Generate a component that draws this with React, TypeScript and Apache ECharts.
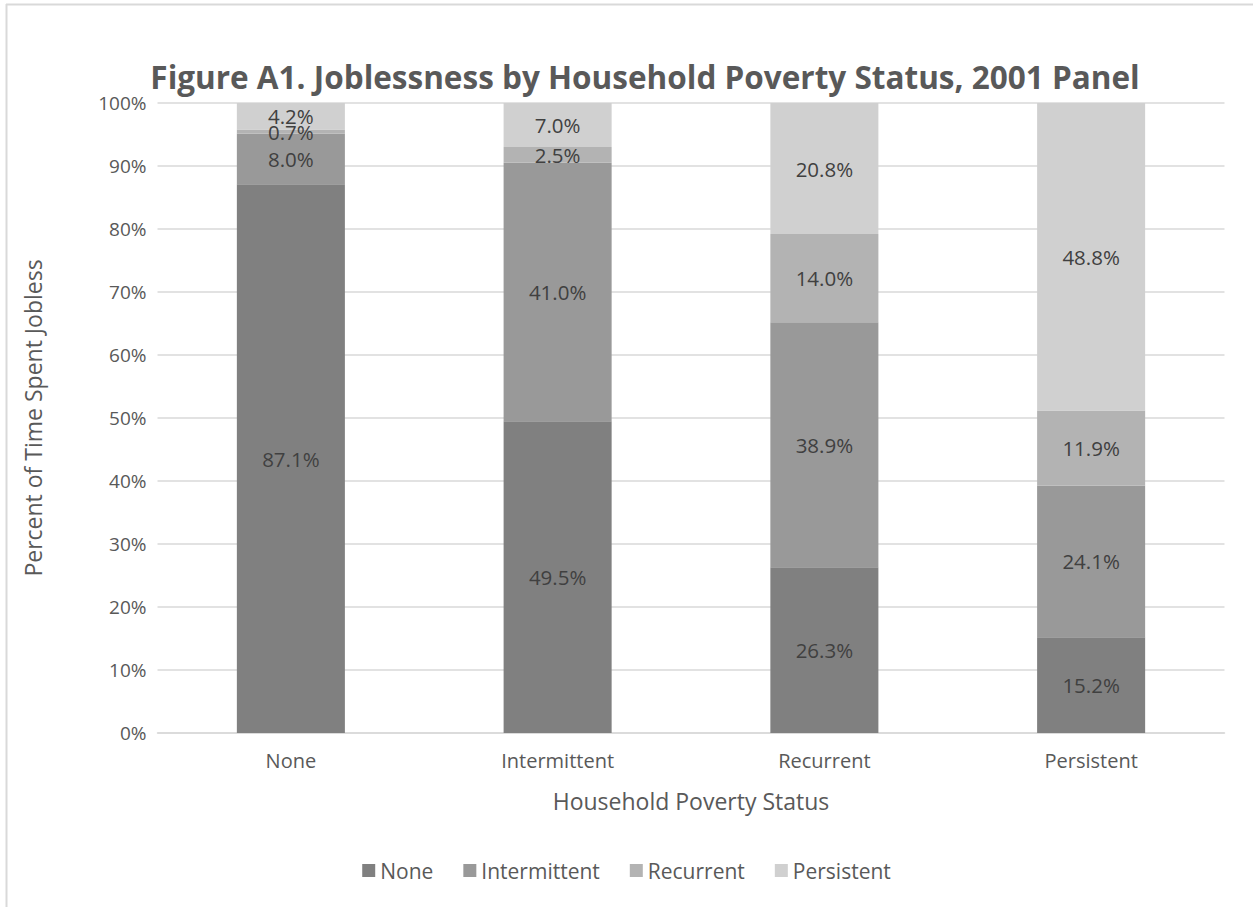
import React, { useEffect, useRef } from "react";
import * as echarts from "echarts";

const categories = ["None", "Intermittent", "Recurrent", "Persistent"];
const seriesNames = ["None", "Intermittent", "Recurrent", "Persistent"];
const noneValues = [87.1, 49.5, 26.3, 15.2];
const intermittentValues = [8.0, 41.0, 38.9, 24.1];
const recurrentValues = [0.7, 2.5, 14.0, 11.9];
const persistentValues = [4.2, 7.0, 20.8, 48.8];
const colors = ["#808080", "#999999", "#b3b3b3", "#d0d0d0"];

export default function App() {
  const ref = useRef<HTMLDivElement>(null);
  useEffect(() => {
    document.body.style.margin = "0";
    const chart = echarts.init(ref.current!, null, { renderer: "svg" });
    const font = "'Open Sans', sans-serif";
    const all = [noneValues, intermittentValues, recurrentValues, persistentValues];
    chart.setOption({
      animation: false,
      backgroundColor: "#ffffff",
      textStyle: { fontFamily: font },
      title: {
        text: "Figure A1. Joblessness by Household Poverty Status, 2001 Panel",
        left: 640,
        top: 55,
        textAlign: "center",
        textStyle: { fontFamily: font, fontSize: 31.5, fontWeight: "bold", color: "#595959" },
      },
      graphic: [
        { type: "line", shape: { x1: 6, y1: 4.5, x2: 1253, y2: 4.5 }, style: { stroke: "#d9d9d9", lineWidth: 2 } },
        { type: "line", shape: { x1: 6.5, y1: 4, x2: 6.5, y2: 907 }, style: { stroke: "#d9d9d9", lineWidth: 2 } },
      ],
      grid: { left: 157.5, right: 28.5, top: 103, bottom: 174, containLabel: false },
      legend: {
        bottom: 21,
        left: "center",
        itemWidth: 13,
        itemHeight: 13,
        itemGap: 30,
        icon: "rect",
        textStyle: { fontFamily: font, fontSize: 21, color: "#595959" },
        data: seriesNames,
      },
      xAxis: {
        type: "category",
        data: categories,
        name: "Household Poverty Status",
        nameLocation: "middle",
        nameGap: 56,
        nameTextStyle: { fontFamily: font, fontSize: 23, color: "#595959" },
        axisLine: { lineStyle: { color: "#d9d9d9", width: 1.5 } },
        axisTick: { show: false },
        axisLabel: { fontFamily: font, fontSize: 20, color: "#595959", margin: 17 },
      },
      yAxis: {
        type: "value",
        min: 0,
        max: 100,
        interval: 10,
        name: "Percent of Time Spent Jobless",
        nameLocation: "middle",
        nameGap: 113,
        nameTextStyle: { fontFamily: font, fontSize: 23, color: "#595959" },
        axisLabel: { formatter: "{value}%", fontFamily: font, fontSize: 19, color: "#595959", margin: 11 },
        splitLine: { lineStyle: { color: "#d9d9d9", width: 1.5 } },
        axisLine: { show: false },
        axisTick: { show: false },
      },
      series: seriesNames.map((name, i) => ({
        name,
        type: "bar",
        stack: "total",
        barWidth: "40.5%",
        data: all[i],
        itemStyle: { color: colors[i] },
        label: {
          show: true,
          position: "inside",
          formatter: (p: any) => p.value.toFixed(1) + "%",
          fontFamily: font,
          fontSize: 20.5,
          color: "#404040",
        },
      })),
    });
    return () => chart.dispose();
  }, []);
  return <div ref={ref} style={{ width: 1253, height: 907 }} />;
}
